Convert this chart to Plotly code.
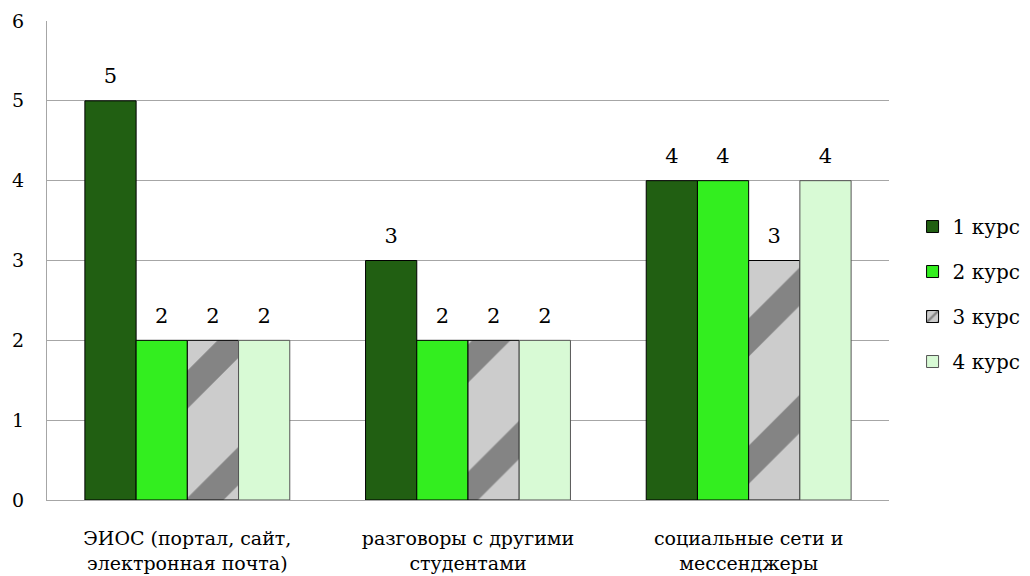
import plotly.graph_objects as go

categories = ["ЭИОС (портал, сайт,<br>электронная почта)", "разговоры с другими<br>студентами", "социальные сети и<br>мессенджеры"]
series_names = ["1 курс", "2 курс", "3 курс", "4 курс"]
kurs1 = [5, 3, 4]
kurs2 = [2, 2, 4]
kurs3 = [2, 2, 3]
kurs4 = [2, 2, 4]
y_ticks = [0, 1, 2, 3, 4, 5, 6]

font_family = "DejaVu Serif"
LABEL_PAD = 0.12  # gap (data units) between bar top and its value label

fig = go.Figure()
styles = [
    dict(color="#215f12", line=dict(color="#000000", width=1)),
    dict(color="#33ee1f", line=dict(color="#000000", width=1)),
    dict(color="#cfcfcf", line=dict(color="#000000", width=1),
         pattern=dict(shape="/", fgcolor="#3c3c3c", bgcolor="#cccccc", size=90, solidity=0.3)),
    dict(color="#d8fad5", line=dict(color="#555555", width=1)),
]
for i, (name, vals, st) in enumerate(zip(series_names, [kurs1, kurs2, kurs3, kurs4], styles)):
    fig.add_trace(go.Bar(
        x=categories, y=vals, name=name, marker=st,
        offsetgroup=str(i), legendgroup=name,
    ))
    # transparent spacer carrying the value label slightly above the bar
    fig.add_trace(go.Bar(
        x=categories, y=[LABEL_PAD] * len(vals), base=vals,
        marker=dict(color="rgba(0,0,0,0)", line=dict(width=0)),
        text=[str(v) for v in vals], textposition="outside",
        textfont=dict(family=font_family, size=21, color="#000000"),
        cliponaxis=False, offsetgroup=str(i), showlegend=False, hoverinfo="skip",
    ))

fig.update_layout(
    width=1030, height=576,
    paper_bgcolor="white", plot_bgcolor="white",
    margin=dict(l=39, r=145, t=13, b=84),
    barmode="group", bargap=0.27, bargroupgap=0,
    font=dict(family=font_family, size=20, color="#000000"),
    legend=dict(x=1.028, y=0.43, yanchor="middle", xanchor="left",
                font=dict(family=font_family, size=20),
                tracegroupgap=16, itemwidth=30),
    showlegend=True,
)
fig.update_yaxes(range=[0, 6], tickvals=y_ticks, showgrid=True, gridcolor="#a6a6a6", gridwidth=1,
                 showline=True, linecolor="#a6a6a6", linewidth=1, zeroline=False, automargin=False,
                 ticks="", ticklabelstandoff=18, ticklabeloverflow="allow",
                 tickfont=dict(family=font_family, size=19))
fig.update_xaxes(showline=True, linecolor="#a6a6a6", linewidth=1, ticks="", automargin=False,
                 ticklabelstandoff=21,
                 tickfont=dict(family=font_family, size=19))

fig.write_html("out.html")
